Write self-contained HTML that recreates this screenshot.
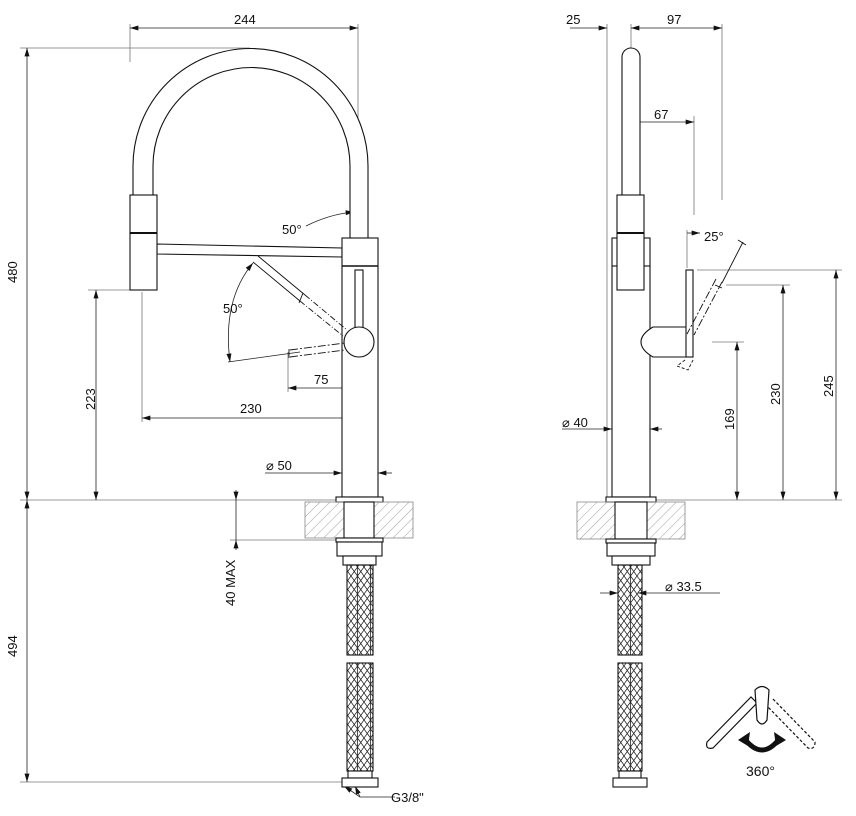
<!DOCTYPE html>
<html><head><meta charset="utf-8"><style>
html,body{margin:0;padding:0;background:#fff}
svg{display:block}
text{font-family:"Liberation Sans",sans-serif;font-size:13px;fill:#111}
</style></head><body>
<svg width="856" height="816" viewBox="0 0 856 816" xmlns="http://www.w3.org/2000/svg">
<defs>
<pattern id="hatch" width="7" height="7" patternUnits="userSpaceOnUse" patternTransform="rotate(45)">
<line x1="0" y1="0" x2="0" y2="7" stroke="#888" stroke-width="0.8"/>
</pattern>
<pattern id="braid" width="13" height="18" patternUnits="userSpaceOnUse">
<path d="M0 0 L13 18 M13 0 L0 18 M6.5 0 L13 9 L6.5 18 L0 9 Z M6.5 0 L6.5 18" stroke="#222" stroke-width="0.8" fill="none"/>
</pattern>
<marker id="ar" viewBox="0 0 10 6" refX="10" refY="3" markerWidth="9" markerHeight="5" orient="auto-start-reverse" markerUnits="userSpaceOnUse">
<path d="M0 0 L10 3 L0 6 Z" fill="#111"/>
</marker>
</defs>

<g stroke="#777" stroke-width="0.8" fill="none">
<line x1="130" y1="24" x2="130" y2="62"/>
<line x1="358" y1="24" x2="358" y2="185"/>
<line x1="20" y1="48" x2="250" y2="48"/>
<line x1="20" y1="500" x2="340" y2="500"/>
<line x1="20" y1="782" x2="345" y2="782"/>
<line x1="88" y1="290" x2="130" y2="290"/>
<line x1="142" y1="292" x2="142" y2="422"/>
<line x1="288" y1="352" x2="288" y2="392"/>
<line x1="358" y1="330" x2="358" y2="422"/>
<line x1="230" y1="540" x2="336" y2="540"/>
<line x1="607" y1="24" x2="607" y2="500"/>
<line x1="631" y1="24" x2="631" y2="130"/>
<line x1="722" y1="24" x2="722" y2="200"/>
<line x1="694" y1="116" x2="694" y2="215"/>
<line x1="687" y1="230" x2="687" y2="268"/>
<line x1="697" y1="270" x2="842" y2="270"/>
<line x1="726" y1="285" x2="790" y2="285"/>
<line x1="712" y1="342" x2="744" y2="342"/>
<line x1="656" y1="500" x2="842" y2="500"/>
</g>

<g stroke="#222" stroke-width="0.8" fill="none">
<line x1="130" y1="28" x2="358" y2="28" marker-start="url(#ar)" marker-end="url(#ar)"/>
<line x1="27" y1="48" x2="27" y2="500" marker-start="url(#ar)" marker-end="url(#ar)"/>
<line x1="27" y1="500" x2="27" y2="782" marker-start="url(#ar)" marker-end="url(#ar)"/>
<line x1="96" y1="290" x2="96" y2="500" marker-start="url(#ar)" marker-end="url(#ar)"/>
<line x1="142" y1="418" x2="358" y2="418" marker-start="url(#ar)" marker-end="url(#ar)"/>
<line x1="288" y1="388" x2="358" y2="388" marker-start="url(#ar)" marker-end="url(#ar)"/>
<line x1="265" y1="473" x2="342" y2="473" marker-end="url(#ar)"/>
<line x1="392" y1="473" x2="378" y2="473" marker-end="url(#ar)"/>
<line x1="236" y1="490" x2="236" y2="500" marker-end="url(#ar)"/>
<line x1="236" y1="550" x2="236" y2="540" marker-end="url(#ar)"/>
<line x1="236" y1="500" x2="236" y2="540"/>
<path d="M306 226 Q330 214 354 212" marker-end="url(#ar)"/>
<path d="M302 250 L264 252" />
<path d="M253 263 Q222 300 230 362" marker-start="url(#ar)" marker-end="url(#ar)"/>
<line x1="228" y1="362" x2="300" y2="352"/>
<path d="M395 797 L360 797 L344 786" marker-end="url(#ar)"/>
<path d="M360 797 L355 786" marker-end="url(#ar)"/>
<line x1="570" y1="28" x2="607" y2="28" marker-end="url(#ar)"/>
<line x1="631" y1="28" x2="722" y2="28" marker-start="url(#ar)" marker-end="url(#ar)"/>
<line x1="631" y1="122" x2="694" y2="122" marker-start="url(#ar)" marker-end="url(#ar)"/>
<line x1="687" y1="233" x2="700" y2="233" marker-end="url(#ar)"/>
<line x1="836" y1="270" x2="836" y2="500" marker-start="url(#ar)" marker-end="url(#ar)"/>
<line x1="783" y1="285" x2="783" y2="500" marker-start="url(#ar)" marker-end="url(#ar)"/>
<line x1="737" y1="342" x2="737" y2="500" marker-start="url(#ar)" marker-end="url(#ar)"/>
<line x1="562" y1="429" x2="612" y2="429" marker-end="url(#ar)"/>
<line x1="662" y1="429" x2="650" y2="429" marker-end="url(#ar)"/>
<line x1="612" y1="429" x2="650" y2="429"/>
<line x1="600" y1="593" x2="618" y2="593" marker-end="url(#ar)"/>
<line x1="720" y1="593" x2="638" y2="593" marker-end="url(#ar)"/>
</g>

<g stroke="#111" stroke-width="1.1" fill="#fff">
<path d="M133 195 L133 166 A117.5 117.5 0 0 1 368 166 L368 238 L350 238 L350 166 A98.5 98.5 0 0 0 153 166 L153 195 Z"/>
<path d="M157 244 L342 248 L342 257 L157 254 Z"/>
<rect x="130" y="195" width="27" height="95"/>
<line x1="130" y1="233" x2="157" y2="233" stroke-width="2"/>
<rect x="342" y="238" width="36" height="259"/>
<line x1="342" y1="266" x2="378" y2="266" stroke-width="1.6"/>
<rect x="355" y="270" width="8" height="60"/>
<circle cx="359" cy="342" r="15"/>
<rect x="336" y="497" width="47" height="5"/>
</g>
<g stroke="#111" stroke-width="0.9" fill="none">
<line x1="258" y1="256" x2="305" y2="295"/>
<line x1="253" y1="262" x2="300" y2="301"/>
<line x1="305" y1="295" x2="347" y2="330" stroke-dasharray="6 2 1 2"/>
<line x1="300" y1="301" x2="343" y2="336" stroke-dasharray="6 2 1 2"/>
<line x1="303" y1="293" x2="299" y2="303"/>
<line x1="290" y1="350" x2="345" y2="343" stroke-dasharray="8 2 2 2"/>
<line x1="290" y1="357" x2="345" y2="350" stroke-dasharray="8 2 2 2"/>
<line x1="289" y1="349" x2="289" y2="358"/>
</g>
<rect x="305" y="502" width="108" height="36" fill="url(#hatch)" stroke="#888" stroke-width="0.8"/>
<g stroke="#111" stroke-width="1.1" fill="#fff">
<rect x="344" y="502" width="30" height="36"/>
<rect x="336" y="538" width="47" height="4"/>
<rect x="337" y="542" width="45" height="14"/>
<rect x="343" y="556" width="33" height="9"/>
<rect x="347" y="565" width="26" height="90" fill="url(#braid)"/>
<rect x="347" y="663" width="26" height="108" fill="url(#braid)"/>
<rect x="348" y="771" width="24" height="7"/>
<rect x="342" y="778" width="36" height="9"/>
</g>

<g stroke="#111" stroke-width="1.1" fill="#fff">
<path d="M622 195 L622 57 A9 9 0 0 1 640 57 L640 195 Z"/>
<rect x="612" y="238" width="38" height="259"/>
<rect x="617" y="195" width="27" height="95"/>
<line x1="617" y1="233" x2="644" y2="233" stroke-width="2"/>
<line x1="612" y1="266" x2="617" y2="266"/>
<line x1="644" y1="266" x2="650" y2="266"/>
<path d="M653 327 L688 327 L688 357 L653 357 Q641 350 641 342 Q641 334 653 327 Z"/>
<rect x="686" y="270" width="7" height="87"/>
<rect x="606" y="497" width="50" height="5"/>
</g>
<g stroke="#111" stroke-width="0.9" fill="none">
<line x1="722" y1="282" x2="694" y2="335" stroke-dasharray="8 2 2 2"/>
<line x1="716" y1="279" x2="687" y2="334" stroke-dasharray="8 2 2 2"/>
<line x1="715" y1="285" x2="722" y2="288"/>
<line x1="722" y1="283" x2="743" y2="242"/>
<line x1="738" y1="240" x2="746" y2="245"/>
<path d="M685 360 L677 366 L688 370 L694 358" stroke-dasharray="3 2"/>
</g>
<rect x="577" y="502" width="108" height="37" fill="url(#hatch)" stroke="#888" stroke-width="0.8"/>
<g stroke="#111" stroke-width="1.1" fill="#fff">
<rect x="615" y="502" width="32" height="37"/>
<rect x="606" y="539" width="50" height="4"/>
<rect x="607" y="543" width="48" height="13"/>
<rect x="612" y="556" width="38" height="9"/>
<rect x="618" y="565" width="24" height="90" fill="url(#braid)"/>
<rect x="618" y="663" width="24" height="108" fill="url(#braid)"/>
<rect x="619" y="771" width="22" height="7"/>
<rect x="613" y="778" width="34" height="9"/>
</g>

<g stroke="#111" stroke-width="1.2" fill="#fff">
<path d="M707 742 L751 697 L757 703 L713 748 Q705 750 707 742 Z"/>
<path d="M773 699 L815 742 Q815 750 808 748 L767 706" stroke-dasharray="3 2"/>
<path d="M755 690 Q762 683 769 690 L767 720 Q762 728 757 720 Z"/>
</g>
<path d="M744 738 Q762 762 780 738" stroke="#111" stroke-width="5" fill="none"/>
<path d="M738 740 L750 732 L748 746 Z M786 740 L774 732 L776 746 Z" fill="#111"/>

<text x="234" y="24">244</text>
<text x="17" y="283" transform="rotate(-90 17 283)">480</text>
<text x="17" y="657" transform="rotate(-90 17 657)">494</text>
<text x="95" y="410" transform="rotate(-90 95 410)">223</text>
<text x="240" y="413">230</text>
<text x="314" y="384">75</text>
<text x="282" y="234">50°</text>
<text x="223" y="313">50°</text>
<text x="266" y="470">⌀ 50</text>
<text x="235" y="606" transform="rotate(-90 235 606)">40 MAX</text>
<text x="391" y="802">G3/8"</text>
<text x="566" y="24">25</text>
<text x="667" y="24">97</text>
<text x="654" y="119">67</text>
<text x="704" y="241">25°</text>
<text x="833" y="397" transform="rotate(-90 833 397)">245</text>
<text x="780" y="405" transform="rotate(-90 780 405)">230</text>
<text x="734" y="430" transform="rotate(-90 734 430)">169</text>
<text x="562" y="427">⌀ 40</text>
<text x="665" y="591">⌀ 33.5</text>
<text x="746" y="776" style="font-size:14px">360°</text>
</svg>
</body></html>
